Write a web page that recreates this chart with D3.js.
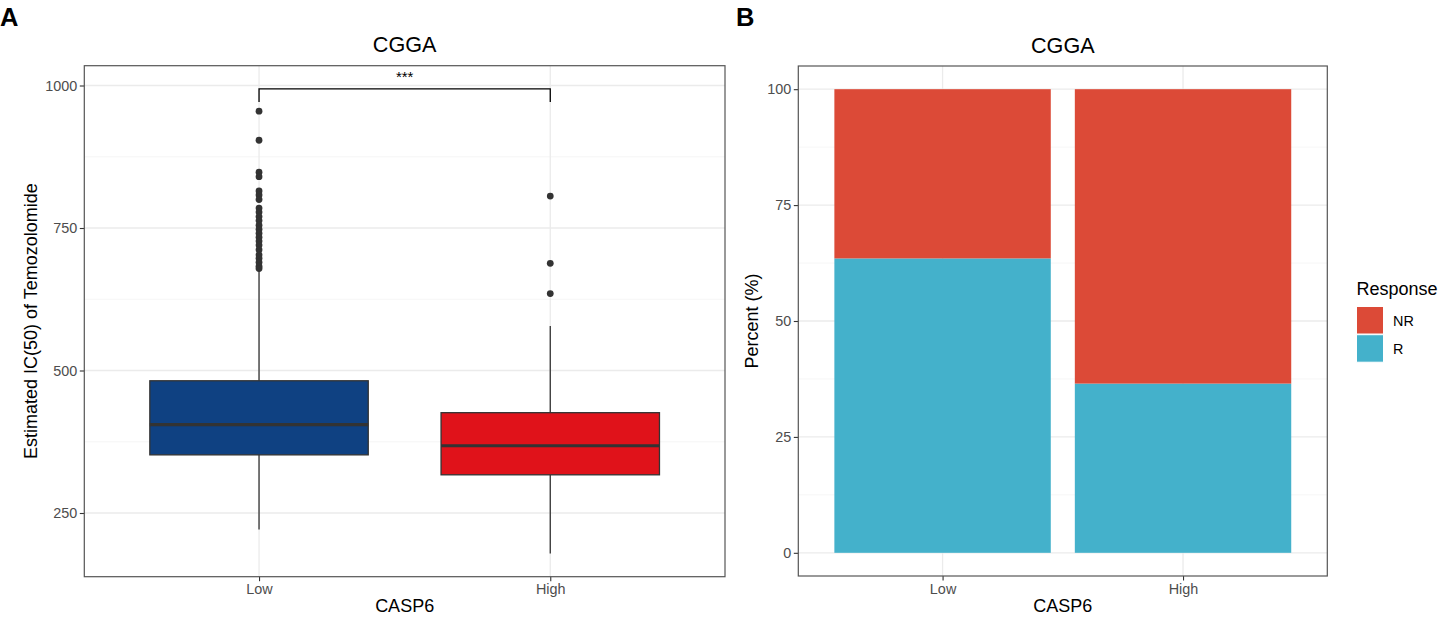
<!DOCTYPE html>
<html>
<head>
<meta charset="utf-8">
<script src="https://cdn.jsdelivr.net/npm/d3@7"></script>
<style>
  body { margin: 0; background: #fff; }
  text { font-family: "Liberation Sans", Arial, Helvetica, sans-serif; }
</style>
</head>
<body>
<svg id="chart" width="1438" height="617"></svg>
<script>
// data
const groups = ["Low", "High"]
const q1 = [352, 317]
const medians = [405, 368]
const q3 = [482, 426]
const whiskerLow = [221, 179]
const whiskerHigh = [676, 578]
const outliers = [
    [955, 904, 848, 840, 815, 808, 800, 785, 778, 770, 763, 755, 748, 741, 734, 727, 720, 712, 703, 697, 690, 683, 679],
    [806, 688, 635]
]
const bracketValue = 994
const bracketDrop = 971
const yTicksA = [250, 500, 750, 1000]

const responses = ["NR", "R"]
const percentNR = [36.5, 63.5]
const percentR = [63.5, 36.5]
const yTicksB = [0, 25, 50, 75, 100]

const boxColors = ["#0F4182", "#E0121A"]
const respColors = { NR: "#DC4A37", R: "#44B1CB" }

const svg = d3.select("#chart")

// shared theme_bw-like helpers
const drawGrid = (g, x, y, majors, minors, left, right, top, bottom) => {
    g.selectAll(".minor").data(minors).enter().append("line")
        .attr("x1", left).attr("x2", right)
        .attr("y1", d => y(d)).attr("y2", d => y(d))
        .attr("stroke", "#F2F2F2").attr("stroke-width", 0.7)
    g.selectAll(".major").data(majors).enter().append("line")
        .attr("x1", left).attr("x2", right)
        .attr("y1", d => y(d)).attr("y2", d => y(d))
        .attr("stroke", "#EBEBEB").attr("stroke-width", 1.3)
    g.selectAll(".vmajor").data(groups).enter().append("line")
        .attr("x1", d => x(d)).attr("x2", d => x(d))
        .attr("y1", top).attr("y2", bottom)
        .attr("stroke", "#EBEBEB").attr("stroke-width", 1.3)
}

const drawAxes = (x, y, ticks, left, right, top, bottom) => {
    const ax = svg.append("g")
        .attr("transform", "translate(0," + bottom + ")")
        .call(d3.axisBottom(x).tickSize(4.5).tickPadding(3))
    const ay = svg.append("g")
        .attr("transform", "translate(" + left + ",0)")
        .call(d3.axisLeft(y).tickValues(ticks).tickFormat(d3.format("d")).tickSize(4.5).tickPadding(2.5))
    ;[ax, ay].forEach(a => {
        a.select(".domain").remove()
        a.selectAll("line").attr("stroke", "#333").attr("stroke-width", 1.1)
        a.selectAll("text").attr("fill", "#4D4D4D").style("font-size", "14.4px")
    })
    svg.append("rect")
        .attr("x", left).attr("y", top)
        .attr("width", right - left).attr("height", bottom - top)
        .attr("fill", "none").attr("stroke", "#555").attr("stroke-width", 1.2)
}

// ---------- panel A : boxplot ----------
const A = { left: 84.3, right: 725, top: 65.7, bottom: 576.7 }

const xA = d3.scalePoint().domain(groups).range([A.left, A.right]).padding(0.6)

let lo = d3.min(whiskerLow)
let hi = Math.max(bracketValue, d3.max(outliers.flat()))
let pad = (hi - lo) * 0.05
const yA = d3.scaleLinear().domain([lo - pad, hi + pad]).range([A.bottom, A.top])

const gA = svg.append("g")
drawGrid(gA, xA, yA, yTicksA, [375, 625, 875], A.left, A.right, A.top, A.bottom)

const boxW = xA.step() * 0.75
const boxes = svg.append("g")
    .selectAll("g")
    .data(groups)
    .enter()
    .append("g")

boxes.append("line")
    .attr("x1", d => xA(d)).attr("x2", d => xA(d))
    .attr("y1", (d, i) => yA(whiskerHigh[i])).attr("y2", (d, i) => yA(q3[i]))
    .attr("stroke", "#333").attr("stroke-width", 1.3)
boxes.append("line")
    .attr("x1", d => xA(d)).attr("x2", d => xA(d))
    .attr("y1", (d, i) => yA(q1[i])).attr("y2", (d, i) => yA(whiskerLow[i]))
    .attr("stroke", "#333").attr("stroke-width", 1.3)
boxes.append("rect")
    .attr("x", d => xA(d) - boxW / 2)
    .attr("width", boxW)
    .attr("y", (d, i) => yA(q3[i]))
    .attr("height", (d, i) => yA(q1[i]) - yA(q3[i]))
    .attr("fill", (d, i) => boxColors[i])
    .attr("stroke", "#333").attr("stroke-width", 1.3)
boxes.append("line")
    .attr("x1", d => xA(d) - boxW / 2).attr("x2", d => xA(d) + boxW / 2)
    .attr("y1", (d, i) => yA(medians[i])).attr("y2", (d, i) => yA(medians[i]))
    .attr("stroke", "#333").attr("stroke-width", 3.2)
boxes.each(function (d, i) {
    d3.select(this).selectAll("circle")
        .data(outliers[i])
        .enter()
        .append("circle")
        .attr("cx", xA(d))
        .attr("cy", v => yA(v))
        .attr("r", 3.4)
        .attr("fill", "#333")
})

// significance bracket
svg.append("path")
    .attr("d", d3.line()([
        [xA(groups[0]), yA(bracketDrop)],
        [xA(groups[0]), yA(bracketValue)],
        [xA(groups[1]), yA(bracketValue)],
        [xA(groups[1]), yA(bracketDrop)]
    ]))
    .attr("fill", "none").attr("stroke", "#000").attr("stroke-width", 1.3)
svg.append("text")
    .attr("x", (xA(groups[0]) + xA(groups[1])) / 2)
    .attr("y", yA(bracketValue) - 7)
    .attr("text-anchor", "middle")
    .style("font-size", "15px")
    .text("***")

drawAxes(xA, yA, yTicksA, A.left, A.right, A.top, A.bottom)

svg.append("text").attr("x", (A.left + A.right) / 2).attr("y", 51.5)
    .attr("text-anchor", "middle").style("font-size", "21.6px").text("CGGA")
svg.append("text").attr("x", (A.left + A.right) / 2).attr("y", 612)
    .attr("text-anchor", "middle").style("font-size", "18px").text("CASP6")
svg.append("text")
    .attr("transform", "translate(36.5," + (A.top + A.bottom) / 2 + ") rotate(-90)")
    .attr("text-anchor", "middle").style("font-size", "18px")
    .text("Estimated IC(50) of Temozolomide")
svg.append("text").attr("x", 0).attr("y", 25.5)
    .style("font-size", "25.5px").style("font-weight", "bold").text("A")

// ---------- panel B : stacked percent bars ----------
const B = { left: 798.3, right: 1327.3, top: 66, bottom: 576 }

const xB = d3.scalePoint().domain(groups).range([B.left, B.right]).padding(0.6)
const yB = d3.scaleLinear().domain([-5, 105]).range([B.bottom, B.top])

const gB = svg.append("g")
drawGrid(gB, xB, yB, yTicksB, [12.5, 37.5, 62.5, 87.5], B.left, B.right, B.top, B.bottom)

const stackRows = groups.map((g, i) => ({ group: g, R: percentR[i], NR: percentNR[i] }))
const series = d3.stack().keys(["R", "NR"])(stackRows)
const barW = xB.step() * 0.9

svg.append("g")
    .selectAll("g")
    .data(series)
    .enter()
    .append("g")
    .attr("fill", d => respColors[d.key])
    .selectAll("rect")
    .data(d => d)
    .enter()
    .append("rect")
    .attr("x", d => xB(d.data.group) - barW / 2)
    .attr("width", barW)
    .attr("y", d => yB(d[1]))
    .attr("height", d => yB(d[0]) - yB(d[1]))

drawAxes(xB, yB, yTicksB, B.left, B.right, B.top, B.bottom)

svg.append("text").attr("x", (B.left + B.right) / 2).attr("y", 52.5)
    .attr("text-anchor", "middle").style("font-size", "21.6px").text("CGGA")
svg.append("text").attr("x", (B.left + B.right) / 2).attr("y", 612)
    .attr("text-anchor", "middle").style("font-size", "18px").text("CASP6")
svg.append("text")
    .attr("transform", "translate(758," + (B.top + B.bottom) / 2 + ") rotate(-90)")
    .attr("text-anchor", "middle").style("font-size", "18px")
    .text("Percent (%)")
svg.append("text").attr("x", 736).attr("y", 25.5)
    .style("font-size", "25.5px").style("font-weight", "bold").text("B")

// legend
const legend = svg.append("g").attr("transform", "translate(1356.5,0)")
legend.append("text").attr("x", 0).attr("y", 295)
    .style("font-size", "18px").text("Response")
const keys = legend.selectAll(".key")
    .data(responses)
    .enter()
    .append("g")
    .attr("transform", (d, i) => "translate(0," + (306.5 + i * 28.2) + ")")
keys.append("rect")
    .attr("width", 27).attr("height", 27.5)
    .attr("fill", d => respColors[d])
    .attr("stroke", "#fff").attr("stroke-width", 1)
keys.append("text")
    .attr("x", 36.5).attr("y", 19)
    .style("font-size", "14.4px")
    .text(d => d)
</script>
</body>
</html>
